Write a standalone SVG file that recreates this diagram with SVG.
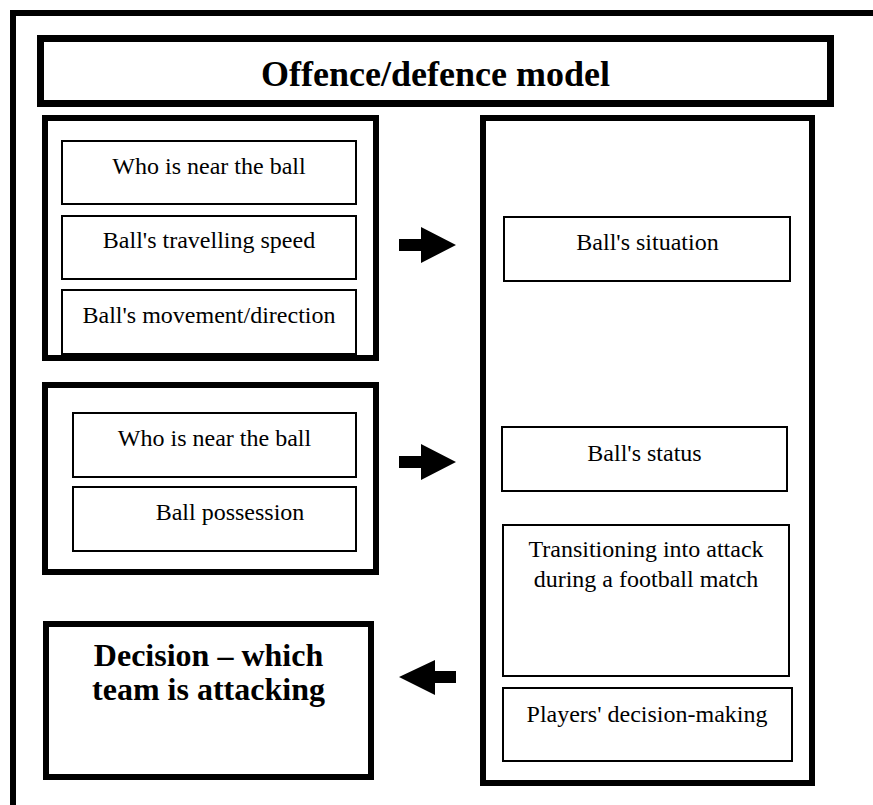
<svg xmlns="http://www.w3.org/2000/svg" width="873" height="805" viewBox="0 0 873 805">
<style>
.frame{fill:none;stroke:#000;stroke-width:6}
.thick{fill:#fff;stroke:#000;stroke-width:6}
.thin{fill:#fff;stroke:#000;stroke-width:2}
.t{font-family:'Liberation Serif','Times New Roman',Tinos,'DejaVu Serif',serif;font-size:24px;font-weight:normal;font-style:normal;fill:#000;text-anchor:middle}
.b{font-family:'Liberation Serif','Times New Roman',Tinos,'DejaVu Serif',serif;font-weight:bold;fill:#000;text-anchor:middle}
.arrow{fill:#000;stroke:none}
</style>
<rect width="873" height="805" fill="#fff"/>
<rect class="frame" x="13" y="13" width="900" height="900"/>
<g id="title">
<rect class="thick" x="40.5" y="38.5" width="790" height="65" style="stroke-width:7"/>
<text class="b" x="435.5" y="86" font-size="36">Offence/defence model</text>
</g>
<g id="group1">
<rect class="thick" x="45" y="118" width="331" height="240"/>
</g>
<g id="near1">
<rect class="thin" x="62" y="141" width="294" height="63"/>
<text class="t" x="209" y="174">Who is near the ball</text>
</g>
<g id="speed">
<rect class="thin" x="62" y="216" width="294" height="63"/>
<text class="t" x="209" y="248">Ball's travelling speed</text>
</g>
<g id="movement">
<rect class="thin" x="62" y="290" width="294" height="64"/>
<text class="t" x="209" y="323">Ball's movement/direction</text>
</g>
<g id="group2">
<rect class="thick" x="45" y="385" width="331" height="187"/>
</g>
<g id="near2">
<rect class="thin" x="73" y="413" width="283" height="64"/>
<text class="t" x="214.5" y="446">Who is near the ball</text>
</g>
<g id="possession">
<rect class="thin" x="73" y="487" width="283" height="64"/>
<text class="t" x="230" y="520">Ball possession</text>
</g>
<g id="decision">
<rect class="thick" x="46" y="624" width="325" height="153"/>
<text class="b" x="208.5" y="666" font-size="32">Decision – which</text>
<text class="b" x="208.5" y="700" font-size="32">team is attacking</text>
</g>
<g id="rightgroup">
<rect class="thick" x="483" y="118" width="329" height="665"/>
</g>
<g id="situation">
<rect class="thin" x="504" y="217" width="286" height="64"/>
<text class="t" x="647.5" y="250">Ball's situation</text>
</g>
<g id="status">
<rect class="thin" x="502" y="427" width="285" height="64"/>
<text class="t" x="644.5" y="461">Ball's status</text>
</g>
<g id="transition">
<rect class="thin" x="503" y="525" width="286" height="151"/>
<text class="t" x="646" y="557">Transitioning into attack</text>
<text class="t" x="646" y="587">during a football match</text>
</g>
<g id="players">
<rect class="thin" x="503" y="688" width="289" height="73"/>
<text class="t" x="647" y="722">Players' decision-making</text>
</g>
<g id="connectors">
<polygon class="arrow" points="399,239 421,239 421,227 456,245 421,263 421,251 399,251"/>
<polygon class="arrow" points="399,456 421,456 421,444 456,462 421,480 421,468 399,468"/>
<polygon class="arrow" points="456,671 435,671 435,660 399,677 435,695 435,683 456,683"/>
</g>
</svg>
